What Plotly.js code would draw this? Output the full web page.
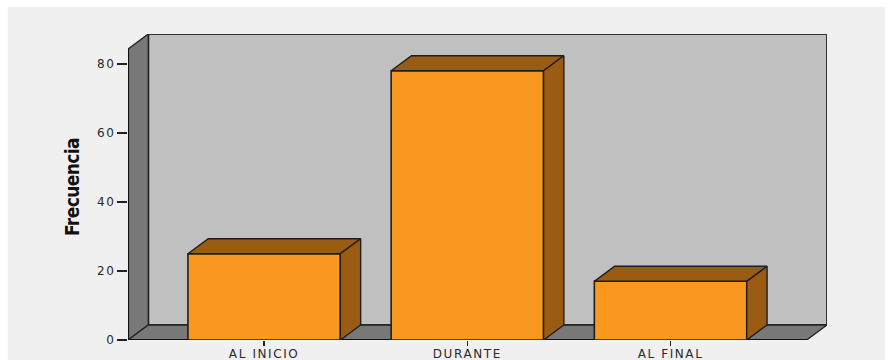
<!DOCTYPE html>
<html>
<head>
<meta charset="utf-8">
<script src="https://cdn.plot.ly/plotly-3.0.1.min.js"></script>
<style>
  html, body { margin: 0; padding: 0; background: #ffffff; }
  #chart { width: 890px; height: 360px; }
  .xtick text, .ytick text { letter-spacing: 1.6px; }
  .ytitle { letter-spacing: -0.6px; }
</style>
</head>
<body>
<div id="chart"></div>
<script>
// Frequency by moment
const categories = ["AL INICIO", "DURANTE", "AL FINAL"];
const frecuencia = [25, 78, 17];
const yTickValues = [0, 20, 40, 60, 80];

// 3D box geometry (axis units)
const BAR_W = 0.75;          // front face width, in category units
const DEPTH_X = 0.1;         // receding offset along x
const DEPTH_Y = 4.35;        // receding offset along y
const X_FRONT = [-0.67, 2.67];
const Y_FRONT_MAX = 84.3;

const FRONT = "#f8981e";
const SHADE = "#9a5b12";
const EDGE = "#1e1e1e";

const traces = [];

// front faces as real bars
traces.push({
  type: "bar",
  x: categories.map((_, i) => i),
  y: frecuencia,
  width: BAR_W,
  marker: { color: FRONT, line: { color: EDGE, width: 1.6 } },
  hoverinfo: "skip",
  showlegend: false
});

// top and side faces of each box
frecuencia.forEach((v, i) => {
  const l = i - BAR_W / 2, r = i + BAR_W / 2;
  traces.push({
    type: "scatter", mode: "lines", fill: "toself",
    x: [l, l + DEPTH_X, r + DEPTH_X, r, l],
    y: [v, v + DEPTH_Y, v + DEPTH_Y, v, v],
    fillcolor: SHADE, line: { color: EDGE, width: 1.4 },
    hoverinfo: "skip", showlegend: false
  });
  traces.push({
    type: "scatter", mode: "lines", fill: "toself",
    x: [r, r + DEPTH_X, r + DEPTH_X, r, r],
    y: [0, DEPTH_Y, v + DEPTH_Y, v, 0],
    fillcolor: SHADE, line: { color: EDGE, width: 1.4 },
    hoverinfo: "skip", showlegend: false
  });
});

const x0 = X_FRONT[0], x1 = X_FRONT[1];
const shapes = [
  // chart panel background
  { type: "rect", xref: "paper", yref: "paper", layer: "below",
    x0: -0.172, x1: 1.083, y0: -0.1, y1: 1.088,
    fillcolor: "#f0f0f0", line: { width: 0 } },
  // back wall
  { type: "path", layer: "below",
    path: `M${x0 + DEPTH_X},${DEPTH_Y} L${x1 + DEPTH_X},${DEPTH_Y} L${x1 + DEPTH_X},${Y_FRONT_MAX + DEPTH_Y} L${x0 + DEPTH_X},${Y_FRONT_MAX + DEPTH_Y} Z`,
    fillcolor: "#c0c0c0", line: { color: "#333333", width: 2 } },
  // left wall
  { type: "path", layer: "below",
    path: `M${x0},0 L${x0},${Y_FRONT_MAX} L${x0 + DEPTH_X},${Y_FRONT_MAX + DEPTH_Y} L${x0 + DEPTH_X},${DEPTH_Y} Z`,
    fillcolor: "#787878", line: { color: "#222222", width: 1.4 } },
  // floor
  { type: "path", layer: "below",
    path: `M${x0},0 L${x1},0 L${x1 + DEPTH_X},${DEPTH_Y} L${x0 + DEPTH_X},${DEPTH_Y} Z`,
    fillcolor: "#787878", line: { color: "#222222", width: 1.4 } },
  // front axis edges
  { type: "line", layer: "below", x0: x0, x1: x0, y0: 0, y1: Y_FRONT_MAX,
    line: { color: "#111111", width: 2.2 } },
  { type: "line", layer: "below", x0: x0, x1: x1, y0: 0, y1: 0,
    line: { color: "#111111", width: 2 } }
];

const tickFont = { family: "DejaVu Sans, Verdana, sans-serif", size: 12, color: "#2a2a2a" };

const layout = {
  width: 890, height: 360,
  margin: { l: 128, r: 63, t: 34, b: 20 },
  paper_bgcolor: "#ffffff",
  plot_bgcolor: "rgba(0,0,0,0)",
  showlegend: false,
  xaxis: {
    range: [x0, x1 + DEPTH_X],
    tickvals: categories.map((_, i) => i),
    ticktext: categories,
    showgrid: false, zeroline: false, showline: false,
    ticks: "outside", ticklen: 5, tickwidth: 1.4, tickcolor: "#222222",
    ticklabelstandoff: -2,
    tickfont: tickFont, fixedrange: true
  },
  yaxis: {
    range: [0, Y_FRONT_MAX + DEPTH_Y],
    tickvals: yTickValues,
    showgrid: false, zeroline: false, showline: false,
    ticks: "outside", ticklen: 10, tickwidth: 1.4, tickcolor: "#222222",
    ticklabelstandoff: -1,
    tickfont: tickFont, fixedrange: true,
    title: {
      text: "Frecuencia",
      font: { family: "DejaVu Sans Condensed, sans-serif", size: 19, color: "#111111", weight: "bold" },
      standoff: 12
    }
  },
  shapes: shapes
};

Plotly.newPlot("chart", traces, layout, { displayModeBar: false, staticPlot: true });
</script>
</body>
</html>
